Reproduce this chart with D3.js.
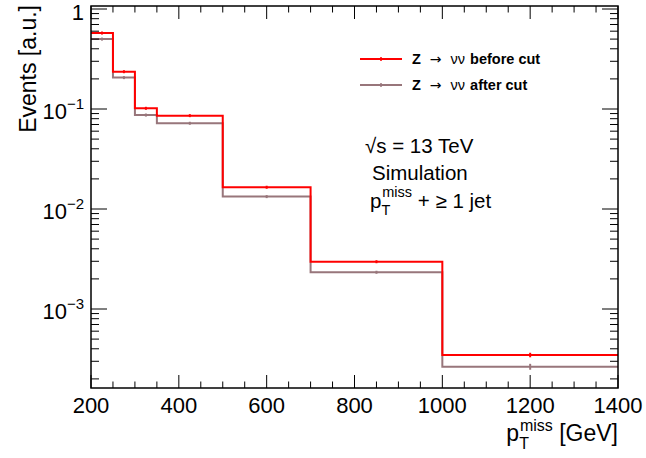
<!DOCTYPE html>
<html><head><meta charset="utf-8">
<script src="https://cdn.jsdelivr.net/npm/d3@7"></script>
<style>body{margin:0;background:#fff}svg{display:block}text{font-family:"Liberation Sans",Arial,sans-serif}</style>
</head><body>
<script>
const binEdges = [200, 250, 300, 350, 500, 700, 1000, 1400];
const beforeCut = [0.575, 0.236, 0.1016, 0.0858, 0.0165, 0.00297, 0.000347];
const beforeErr = [0.006, 0.003, 0.0012, 0.0008, 0.00015, 0.00004, 0.000018];
const afterCut = [0.50, 0.206, 0.087, 0.072, 0.0133, 0.00233, 0.000265];
const afterErr = [0.006, 0.003, 0.0011, 0.0007, 0.00013, 0.00004, 0.000018];
const xTicks = [200, 400, 600, 800, 1000, 1200, 1400];
const yTickExps = [0, -1, -2, -3];
const seriesNames = ["before cut", "after cut"];
const colors = ["#ff0000", "#98767b"];

const W = 646, H = 458;
const m = {l: 91, r: 28, t: 6, b: 70};
const svg = d3.select("body").append("svg").attr("width", W).attr("height", H);
const x = d3.scaleLinear().domain([200, 1400]).range([m.l, W - m.r]);
const y = d3.scaleLog().domain([Math.pow(10, -3.79), Math.pow(10, 0.03)]).range([H - m.b, m.t]);

// histograms
function drawHist(vals, errs, color) {
  let d = "";
  vals.forEach((v, i) => {
    const x0 = x(binEdges[i]), x1 = x(binEdges[i + 1]), yy = y(v);
    d += (i === 0 ? "M" + x0 + "," + yy : "L" + x0 + "," + yy) + "L" + x1 + "," + yy;
  });
  svg.append("path").attr("d", d).attr("fill", "none").attr("stroke", color).attr("stroke-width", 2);
  vals.forEach((v, i) => {
    const xc = x((binEdges[i] + binEdges[i + 1]) / 2);
    const y0 = y(v + errs[i]), y1 = y(v - errs[i]);
    svg.append("line").attr("x1", xc).attr("x2", xc)
      .attr("y1", Math.min(y0, y(v) - 1.5)).attr("y2", Math.max(y1, y(v) + 1.5))
      .attr("stroke", color).attr("stroke-width", 2);
  });
}
drawHist(afterCut, afterErr, colors[1]);
drawHist(beforeCut, beforeErr, colors[0]);

// frame
const g = svg.append("g").attr("stroke", "#000").attr("stroke-width", 1.5);
g.append("rect").attr("x", m.l).attr("y", m.t).attr("width", W - m.r - m.l).attr("height", H - m.b - m.t).attr("fill", "none");
const yb = H - m.b, yt = m.t, xl = m.l, xr = W - m.r;
// x ticks
for (let v = 200; v <= 1400; v += 50) {
  const major = v % 200 === 0;
  const len = major ? 13 : 6.5;
  g.append("line").attr("x1", x(v)).attr("x2", x(v)).attr("y1", yb).attr("y2", yb - len).attr("stroke-width", 1);
  g.append("line").attr("x1", x(v)).attr("x2", x(v)).attr("y1", yt).attr("y2", yt + len).attr("stroke-width", 1);
}
// y ticks
const [ymin, ymax] = y.domain();
for (let e = -4; e <= 0; e++) {
  for (let k = 1; k <= 9; k++) {
    const v = k * Math.pow(10, e);
    if (v < ymin || v > ymax) continue;
    const len = k === 1 ? 16 : 8;
    g.append("line").attr("x1", xl).attr("x2", xl + len).attr("y1", y(v)).attr("y2", y(v)).attr("stroke-width", 1);
    g.append("line").attr("x1", xr).attr("x2", xr - len).attr("y1", y(v)).attr("y2", y(v)).attr("stroke-width", 1);
  }
}
// x tick labels
svg.selectAll(".xl").data(xTicks).enter().append("text")
  .attr("x", d => x(d)).attr("y", yb + 25).attr("text-anchor", "middle")
  .attr("font-size", 22).text(d => d);
// y tick labels
yTickExps.forEach(e => {
  const t = svg.append("text").attr("x", xl - 7).attr("y", y(Math.pow(10, e)) + (e === 0 ? 11 : 10))
    .attr("text-anchor", "end").attr("font-size", 22);
  if (e === 0) t.text("1");
  else {
    t.append("tspan").text("10");
    t.append("tspan").attr("dy", -10).attr("font-size", 15).text("\u2212" + (-e));
  }
});
// axis titles
svg.append("text").attr("transform", `translate(36,5) rotate(-90)`).attr("text-anchor", "end")
  .attr("font-size", 23).text("Events [a.u.]");
const xt = svg.append("text").attr("x", xr).attr("y", 441).attr("text-anchor", "end").attr("font-size", 23);
xt.append("tspan").text("p");
xt.append("tspan").attr("dy", 8).attr("font-size", 16).text("T");
xt.append("tspan").attr("dx", -9).attr("dy", -18).attr("font-size", 16).text("miss");
xt.append("tspan").attr("dy", 10).text(" [GeV]");

// legend
seriesNames.forEach((n, i) => {
  const ly = 59 + i * 26;
  svg.append("line").attr("x1", 360).attr("x2", 402).attr("y1", ly).attr("y2", ly).attr("stroke", colors[i]).attr("stroke-width", 2);
  svg.append("line").attr("x1", 381).attr("x2", 381).attr("y1", ly - 2).attr("y2", ly + 2).attr("stroke", colors[i]).attr("stroke-width", 1.5);
  const t = svg.append("text").attr("x", 412).attr("y", ly + 5).attr("font-size", 14.5);
  t.append("tspan").attr("font-weight", "bold").text("Z");
  t.append("tspan").attr("dx", 9).attr("font-family", "DejaVu Sans").attr("font-size", 14).text("\u2192");
  t.append("tspan").attr("dx", 9).text("\u03BD\u03BD");
  t.append("tspan").attr("dx", 5).attr("font-weight", "bold").text(n);
});

// annotations
const a1 = svg.append("text").attr("x", 365).attr("y", 153).attr("font-size", 20.5);
a1.append("tspan").text("\u221As = 13 TeV");
svg.append("text").attr("x", 372).attr("y", 180).attr("font-size", 20.5).text("Simulation");
const a3 = svg.append("text").attr("x", 370).attr("y", 208).attr("font-size", 20.5);
a3.append("tspan").text("p");
a3.append("tspan").attr("dy", 7).attr("font-size", 14.5).text("T");
a3.append("tspan").attr("dx", -8).attr("dy", -18).attr("font-size", 14.5).text("miss");
a3.append("tspan").attr("dy", 11).text(" + \u2265 1 jet");
</script>
</body></html>
